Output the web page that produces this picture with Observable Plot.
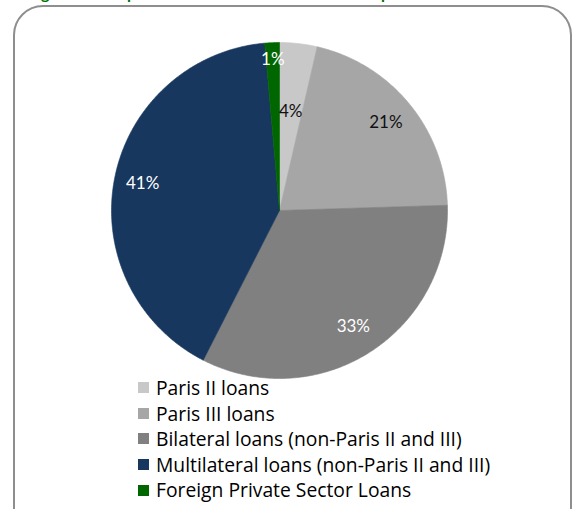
<!DOCTYPE html>
<html><head><meta charset="utf-8">
<script src="https://cdn.jsdelivr.net/npm/d3@7"></script>
<script src="https://cdn.jsdelivr.net/npm/@observablehq/plot@0.6"></script>
<style>
body{margin:0;background:#fff;}
#wrap{position:relative;width:575px;height:509px;overflow:hidden;font-family:Lato,sans-serif;background:#fff;}
#title{position:absolute;left:28px;top:-17.5px;color:#007000;font-weight:bold;font-size:16px;line-height:20px;white-space:nowrap;}
#frame{position:absolute;left:13px;top:5px;width:559px;height:540px;border:2px solid #8e8e8e;border-radius:30px;box-sizing:border-box;}
#chart{position:absolute;left:0;top:0;}
#legend{position:absolute;left:138px;top:375px;font-family:"Open Sans",sans-serif;}
.row{display:flex;align-items:center;height:25.6px;font-size:19.3px;line-height:25.6px;color:#000;white-space:nowrap;}
.sw{width:11px;height:11px;margin-right:7px;flex:none;}
</style>
</head><body>
<div id="wrap">
  <div id="title">Figure 4: Composition of Lebanon's total external public debt</div>
  <div id="frame"></div>
  <div id="chart"></div>
  <div id="legend"></div>
</div>
<script>
// ---- data ----
const categories = ["Paris II loans", "Paris III loans", "Bilateral loans (non-Paris II and III)", "Multilateral loans (non-Paris II and III)", "Foreign Private Sector Loans"];
const shares = [3.6, 20.9, 33.0, 41.1, 1.4];
const colors = ["#c8c8c8", "#a6a6a6", "#808080", "#17375e", "#006600"];

// ---- layout (not data) ----
const W = 575, H = 390, CX = 279, CY = 210, R = 168;
const labelFactor = [0.59, 0.82, 0.82, 0.83, 0.90];
const whiteLabel = [false, false, true, true, true];

const pie = d3.pie().sort(null).value(d => d.v)(categories.map((c, i) => ({c, v: shares[i], i})));
const pts = [];
const labels = [];
for (const s of pie) {
  const cat = s.data.c;
  pts.push({cat, x: 0, y: 0});
  const n = Math.max(2, Math.ceil((s.endAngle - s.startAngle) / (Math.PI / 360)));
  for (let k = 0; k <= n; k++) {
    const a = s.startAngle + (s.endAngle - s.startAngle) * k / n;
    pts.push({cat, x: Math.sin(a), y: Math.cos(a)});
  }
  pts.push({cat, x: 0, y: 0});
  const m = (s.startAngle + s.endAngle) / 2, f = labelFactor[s.data.i];
  labels.push({cat, x: f * Math.sin(m), y: f * Math.cos(m), text: Math.round(s.data.v) + "%", white: whiteLabel[s.data.i]});
}

const chart = Plot.plot({
  width: W, height: H, margin: 0,
  x: {domain: [-CX / R, (W - CX) / R], axis: null},
  y: {domain: [(CY - H) / R, CY / R], axis: null},
  color: {domain: categories, range: colors},
  style: {background: "transparent", fontFamily: "Lato, sans-serif", overflow: "visible"},
  marks: [
    Plot.line(pts, {x: "x", y: "y", z: "cat", fill: "cat", stroke: "cat", strokeWidth: 0.6, curve: "linear"}),
    Plot.text(labels.filter(d => !d.white), {x: "x", y: "y", text: "text", fill: "#111", fontSize: 17}),
    Plot.text(labels.filter(d => d.white), {x: "x", y: "y", text: "text", fill: "#fff", fontSize: 17})
  ]
});
document.getElementById("chart").appendChild(chart);

const leg = document.getElementById("legend");
categories.forEach((c, i) => {
  const row = document.createElement("div");
  row.className = "row";
  const sw = document.createElement("span");
  sw.className = "sw";
  sw.style.background = colors[i];
  const t = document.createElement("span");
  t.textContent = c;
  row.appendChild(sw); row.appendChild(t);
  leg.appendChild(row);
});
</script>
</body></html>
